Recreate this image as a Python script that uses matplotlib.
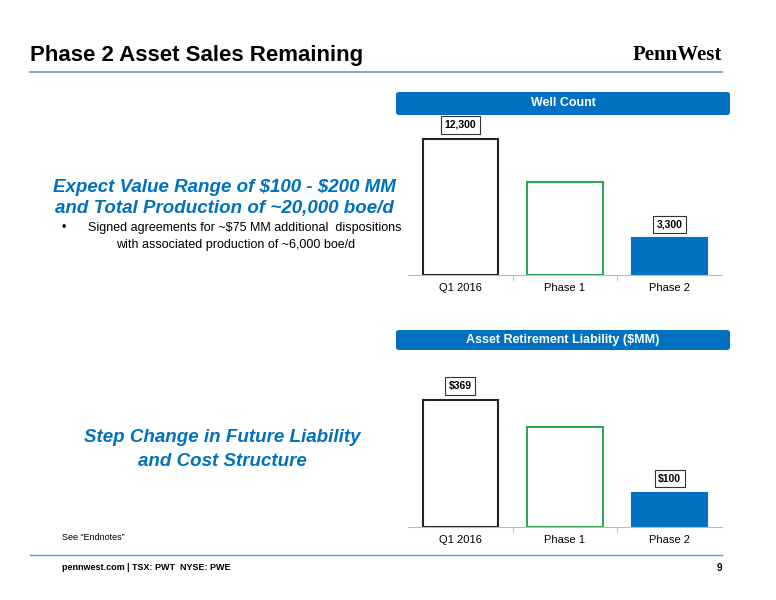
import matplotlib
matplotlib.use("Agg")
import matplotlib.pyplot as plt
from matplotlib.patches import FancyBboxPatch

categories = ["Q1 2016", "Phase 1", "Phase 2"]
well_count = [12300, 8400, 3300]
well_labels = ["12,300", None, "3,300"]
arl = [369, 291, 100]
arl_labels = ["$369", None, "$100"]

W, H = 776, 600
plt.rcParams['font.family'] = ['Liberation Sans', 'DejaVu Sans']
plt.rcParams['text.parse_math'] = False
fig = plt.figure(figsize=(W/100, H/100), dpi=100)
BLUE = "#0070C0"
GREEN = "#2EAA57"

def fx(x): return x / W
def fy(y): return 1 - y / H

fig.text(fx(30), fy(55), "Phase 2 Asset Sales Remaining", fontsize=16, fontweight="bold", va="center")
fig.text(fx(722), fy(55), "PennWest", fontsize=15, fontweight="bold", family="Liberation Serif", ha="right", va="center")
fig.add_artist(plt.Line2D([fx(30), fx(722)], [fy(72), fy(72)], color="#5B9BD5", lw=1.2))
fig.add_artist(plt.Line2D([fx(30), fx(722)], [fy(555), fy(555)], color="#5B9BD5", lw=1.0))
fig.text(fx(62), fy(568), "pennwest.com | TSX: PWT  NYSE: PWE", fontsize=6.5, fontweight="bold", va="center")
fig.text(fx(722), fy(568), "9", fontsize=7, fontweight="bold", va="center", ha="right")
fig.text(fx(62), fy(537), "See \u201cEndnotes\u201d", fontsize=6.5, va="center")

fig.text(fx(224), fy(187), "Expect Value Range of $100 - $200 MM", fontsize=13.5, fontweight="bold", style="italic", color=BLUE, ha="center", va="center")
fig.text(fx(224), fy(208), "and Total Production of ~20,000 boe/d", fontsize=13.5, fontweight="bold", style="italic", color=BLUE, ha="center", va="center")
fig.text(fx(62), fy(228), "\u2022", fontsize=9, va="center")
fig.text(fx(88), fy(228), "Signed agreements for ~$75 MM additional  dispositions", fontsize=9, va="center")
fig.text(fx(236), fy(245), "with associated production of ~6,000 boe/d", fontsize=9, va="center", ha="center")
fig.text(fx(222), fy(438), "Step Change in Future Liability", fontsize=13.5, fontweight="bold", style="italic", color=BLUE, ha="center", va="center")
fig.text(fx(222), fy(461), "and Cost Structure", fontsize=13.5, fontweight="bold", style="italic", color=BLUE, ha="center", va="center")

def header(y0, y1, text):
    p = FancyBboxPatch((fx(396), fy(y1)), fx(334), (y1 - y0) / H,
                       boxstyle="round,pad=0,rounding_size=0.004", transform=fig.transFigure,
                       facecolor=BLUE, edgecolor="none")
    fig.add_artist(p)
    fig.text(fx(563), fy((y0 + y1) / 2), text, color="white", fontsize=9, fontweight="bold", ha="center", va="center")

def chart(top, bottom, vals, labels, ymax):
    ax = fig.add_axes([fx(408), fy(bottom), fx(314), (bottom - top) / H])
    x = range(len(categories))
    fcs = ["white", "white", BLUE]
    ecs = ["#222222", GREEN, BLUE]
    ax.bar(x, vals, width=0.72, color=fcs, edgecolor=ecs, linewidth=1.5)
    ax.set_xlim(-0.5, 2.5)
    ax.set_ylim(0, ymax)
    for s in ["top", "right", "left"]:
        ax.spines[s].set_visible(False)
    ax.spines["bottom"].set_color("#BBBBBB")
    ax.set_yticks([])
    ax.set_xticks([0.5, 1.5], minor=True)
    ax.set_xticks(list(x))
    ax.set_xticklabels(categories, fontsize=8)
    ax.tick_params(axis="x", which="major", length=0, pad=6)
    ax.tick_params(axis="x", which="minor", length=4, color="#BBBBBB")
    for i, (v, l) in enumerate(zip(vals, labels)):
        if l:
            ax.annotate(l, (i, v), xytext=(0, 10), textcoords="offset points", ha="center", va="center",
                        fontsize=7.5, fontweight="bold",
                        bbox=dict(boxstyle="square,pad=0.35", fc="white", ec="#333333", lw=0.8))
    return ax

header(92, 115, "Well Count")
chart(130, 275, well_count, well_labels, 13100)
header(330, 350, "Asset Retirement Liability ($MM)")
chart(385, 527, arl, arl_labels, 412)

fig.savefig("out.png", dpi=100)
